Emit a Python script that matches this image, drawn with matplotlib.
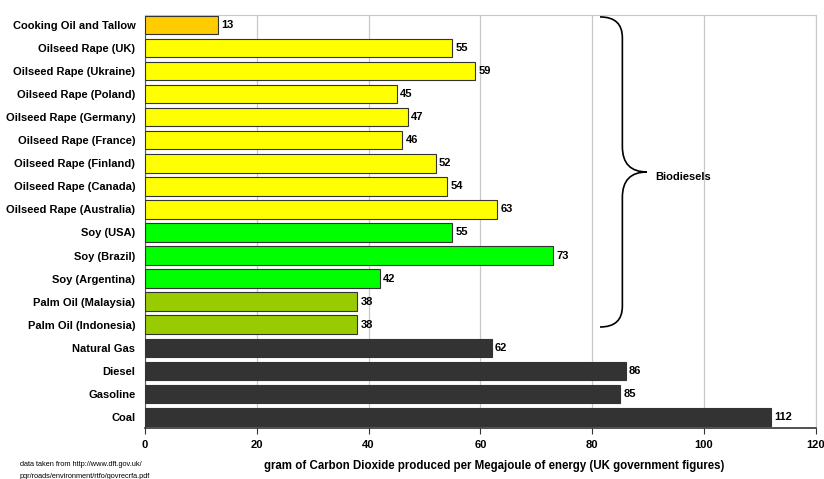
import matplotlib.pyplot as plt
from matplotlib.path import Path
from matplotlib.patches import PathPatch

plt.rcParams['font.family'] = ['Liberation Sans', 'DejaVu Sans']
plt.rcParams['font.weight'] = 'bold'

# data (top to bottom)
fuels = ['Cooking Oil and Tallow', 'Oilseed Rape (UK)', 'Oilseed Rape (Ukraine)',
         'Oilseed Rape (Poland)', 'Oilseed Rape (Germany)', 'Oilseed Rape (France)',
         'Oilseed Rape (Finland)', 'Oilseed Rape (Canada)', 'Oilseed Rape (Australia)',
         'Soy (USA)', 'Soy (Brazil)', 'Soy (Argentina)',
         'Palm Oil (Malaysia)', 'Palm Oil (Indonesia)',
         'Natural Gas', 'Diesel', 'Gasoline', 'Coal']
co2 = [13, 55, 59, 45, 47, 46, 52, 54, 63, 55, 73, 42, 38, 38, 62, 86, 85, 112]
groups = ['tallow'] + ['rape'] * 8 + ['soy'] * 3 + ['palm'] * 2 + ['fossil'] * 4

group_colors = {'tallow': '#FFCC00', 'rape': '#FFFF00', 'soy': '#00FF00',
                'palm': '#99CC00', 'fossil': '#333333'}
colors = [group_colors[g] for g in groups]

fig = plt.figure(figsize=(8.24, 4.79), dpi=100)
ax = fig.add_axes([0.176, 0.1065, 0.814, 0.862])

ypos = list(range(len(fuels)))
ax.barh(ypos, co2, height=0.8, color=colors, edgecolor='#333333', linewidth=0.8, zorder=3)

for y, v in zip(ypos, co2):
    ax.text(v + 0.6, y, str(v), va='center', ha='left', fontsize=8, fontweight='bold')

ax.set_yticks(ypos)
ax.set_yticklabels(fuels, fontsize=8, fontweight='bold')
ax.tick_params(axis='y', length=0, pad=7)
ax.set_ylim(len(fuels) - 1 + 0.48, -0.43)

ax.set_xlim(0, 120)
ax.set_xticks(range(0, 121, 20))
ax.tick_params(axis='x', labelsize=8, length=4, direction='out', pad=5, color='#333333')
ax.xaxis.grid(True, color='#C8C8C8', linewidth=0.9, zorder=0)
ax.set_axisbelow(True)

for side in ['top', 'right']:
    ax.spines[side].set_color('#C8C8C8')
ax.spines['left'].set_color('#555555')
ax.spines['bottom'].set_color('#333333')
ax.spines['bottom'].set_linewidth(1.2)

ax.set_xlabel('gram of Carbon Dioxide produced per Megajoule of energy (UK government figures)',
              fontsize=8.3, fontweight='bold')
ax.xaxis.set_label_coords(0.52, -0.078)

# curly brace for biodiesels
xl, xs, xt = 81.4, 85.4, 89.8
yt, yb = -0.35, 13.1
ym = (yt + yb) / 2
r1, r2 = 0.9, 1.1
verts = [(xl, yt), (xs, yt), (xs, yt + r1),
         (xs, ym - r2), (xs, ym), (xt, ym),
         (xs, ym), (xs, ym + r2),
         (xs, yb - r1), (xs, yb), (xl, yb)]
codes = [Path.MOVETO, Path.CURVE3, Path.CURVE3,
         Path.LINETO, Path.CURVE3, Path.CURVE3,
         Path.CURVE3, Path.CURVE3,
         Path.LINETO, Path.CURVE3, Path.CURVE3]
ax.add_patch(PathPatch(Path(verts, codes), fill=False, lw=1.2, color='black',
                       zorder=4, clip_on=False))
ax.text(xt + 1.4, ym + 0.2, 'Biodiesels', va='center', ha='left', fontsize=8, fontweight='bold')

fig.text(0.024, 0.031, 'data taken from http://www.dft.gov.uk/', fontsize=5.3,
         fontweight='normal', va='center')
fig.text(0.024, 0.006, 'pgr/roads/environment/rtfo/govrecrfa.pdf', fontsize=5.3,
         fontweight='normal', va='center')

plt.savefig('out.png', dpi=100)
